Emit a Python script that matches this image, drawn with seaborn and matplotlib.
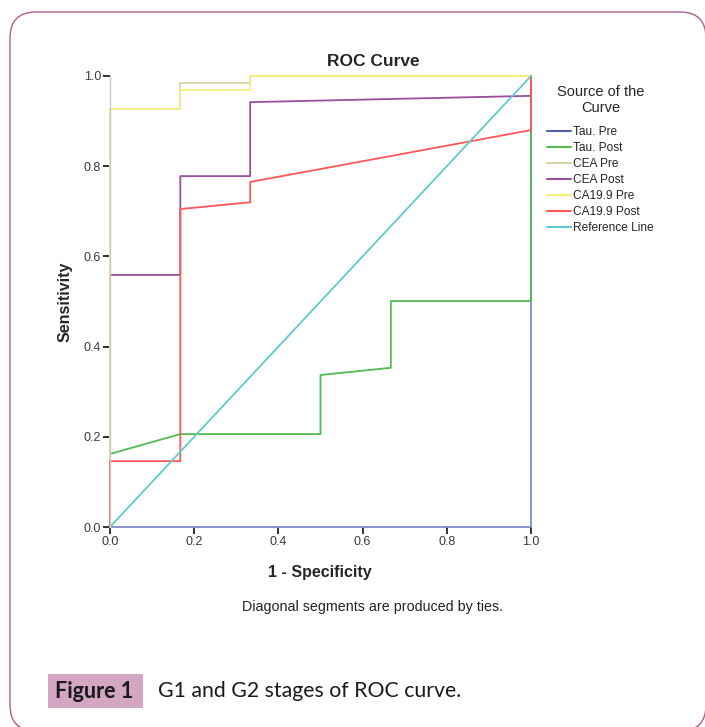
import pandas as pd
import matplotlib.pyplot as plt
import seaborn as sns
from matplotlib.lines import Line2D
from matplotlib.patches import FancyBboxPatch, Rectangle

# ROC curve points (1 - specificity, sensitivity)
series_names = ["Tau. Pre", "Tau. Post", "CEA Pre", "CEA Post",
                "CA19.9 Pre", "CA19.9 Post", "Reference Line"]

tau_pre_x = [0.0, 1.0, 1.0]
tau_pre_y = [0.0, 0.0, 1.0]

tau_post_x = [0.0, 0.0, 0.167, 0.5, 0.5, 0.667, 0.667, 1.0, 1.0]
tau_post_y = [0.0, 0.162, 0.206, 0.206, 0.337, 0.353, 0.501, 0.501, 1.0]

cea_pre_x = [0.0, 0.0, 0.167, 0.167, 0.333, 0.333, 1.0]
cea_pre_y = [0.0, 0.927, 0.927, 0.984, 0.984, 1.0, 1.0]

cea_post_x = [0.0, 0.0, 0.167, 0.167, 0.333, 0.333, 1.0, 1.0]
cea_post_y = [0.0, 0.559, 0.559, 0.778, 0.778, 0.942, 0.956, 1.0]

ca_pre_x = [0.0, 0.0, 0.167, 0.167, 0.333, 0.333, 1.0]
ca_pre_y = [0.0, 0.927, 0.927, 0.969, 0.969, 1.0, 1.0]

ca_post_x = [0.0, 0.0, 0.167, 0.167, 0.333, 0.333, 1.0, 1.0]
ca_post_y = [0.0, 0.146, 0.146, 0.705, 0.72, 0.765, 0.880, 1.0]

ref_x = [0.0, 1.0]
ref_y = [0.0, 1.0]

colors = ["#7d8ccc", "#52bb52", "#d9d3a6", "#994f9e",
          "#f7ef7a", "#ff5757", "#5ccccc"]
legend_colors = ["#4f5fae", "#52bb52", "#d9d3a6", "#994f9e",
                 "#f7ef7a", "#ff5757", "#5ccccc"]

all_x = [tau_pre_x, tau_post_x, cea_pre_x, cea_post_x, ca_pre_x, ca_post_x, ref_x]
all_y = [tau_pre_y, tau_post_y, cea_pre_y, cea_post_y, ca_pre_y, ca_post_y, ref_y]

rows = []
for name, xs, ys in zip(series_names, all_x, all_y):
    for i, (x, y) in enumerate(zip(xs, ys)):
        rows.append({"curve": name, "order": i, "fpr": x, "tpr": y})
df = pd.DataFrame(rows)

sns.set_style("white")
plt.rcParams['font.family'] = ['Liberation Sans', 'DejaVu Sans']

fig = plt.figure(figsize=(7.05, 7.27), dpi=100)

# rounded frame (inches) and caption
frame = FancyBboxPatch((0.10, -0.04), 6.96, 7.19,
                       boxstyle="round,pad=0,rounding_size=0.26",
                       transform=fig.dpi_scale_trans, facecolor="none",
                       edgecolor="#b35c90", linewidth=1.0)
fig.patches.append(frame)
fig.patches.append(Rectangle((48 / 705, 1 - 708 / 727), 95 / 705, 34 / 727,
                             transform=fig.transFigure, facecolor="#d4a6c4",
                             edgecolor="none"))
fig.text(94 / 705, 1 - 691 / 727, "Figure 1", ha="center", va="center",
         fontsize=15.5, fontweight="bold", family="Lato", color="#1a1a1a")
fig.text(158 / 705, 1 - 691 / 727, "G1 and G2 stages of ROC curve.",
         ha="left", va="center", fontsize=15.3, family="Lato", color="#1a1a1a")

ax = fig.add_axes([110 / 705, 1 - 527 / 727, 421 / 705, 451 / 727])
for name, col in zip(series_names, colors):
    sub = df[df["curve"] == name]
    sns.lineplot(data=sub, x="fpr", y="tpr", sort=False, estimator=None,
                 color=col, linewidth=1.3, ax=ax, legend=False, clip_on=False)

ax.set_xlim(0, 1)
ax.set_ylim(0, 1)
ax.set_xticks([0, 0.2, 0.4, 0.6, 0.8, 1.0])
ax.set_yticks([0, 0.2, 0.4, 0.6, 0.8, 1.0])
ax.set_xticklabels(["0.0", "0.2", "0.4", "0.6", "0.8", "1.0"])
ax.set_yticklabels(["0.0", "0.2", "0.4", "0.6", "0.8", "1.0"])
ax.tick_params(axis="both", direction="out", length=5, width=1.3,
               color="#222222", labelsize=9, labelcolor="#3a3a3a", pad=1.5)
ax.tick_params(axis="x", bottom=True)
ax.tick_params(axis="y", left=True)
for side in ["top", "right", "bottom"]:
    ax.spines[side].set_visible(False)
ax.spines["left"].set_color("#c8c8c8")
ax.spines["left"].set_linewidth(1.0)
ax.set_xlabel("")
ax.set_ylabel("")

fig.text(373 / 705, 1 - 62 / 727, "ROC Curve", ha="center", va="center",
         fontsize=12.5, fontweight="bold")
fig.text(320 / 705, 1 - 573 / 727, "1 - Specificity", ha="center", va="center",
         fontsize=11.5, fontweight="bold")
fig.text(65 / 705, 1 - 302 / 727, "Sensitivity", ha="center", va="center",
         rotation=90, fontsize=11.5, fontweight="bold")
fig.text(372 / 705, 1 - 607 / 727, "Diagonal segments are produced by ties.",
         ha="center", va="center", fontsize=10.3, color="#222222")

handles = [Line2D([0], [0], color=c, linewidth=1.5) for c in legend_colors]
leg = fig.legend(handles, series_names, title="Source of the\nCurve",
                 loc="upper left", bbox_to_anchor=(547 / 705, 1 - 85 / 727),
                 frameon=False, fontsize=8.6, title_fontsize=10.5,
                 handlelength=2.0, handletextpad=0.2, labelspacing=0.33,
                 borderpad=0, borderaxespad=0)
leg.get_title().set_multialignment("center")
leg._legend_box.sep = 8

fig.savefig("out.png", dpi=100)
